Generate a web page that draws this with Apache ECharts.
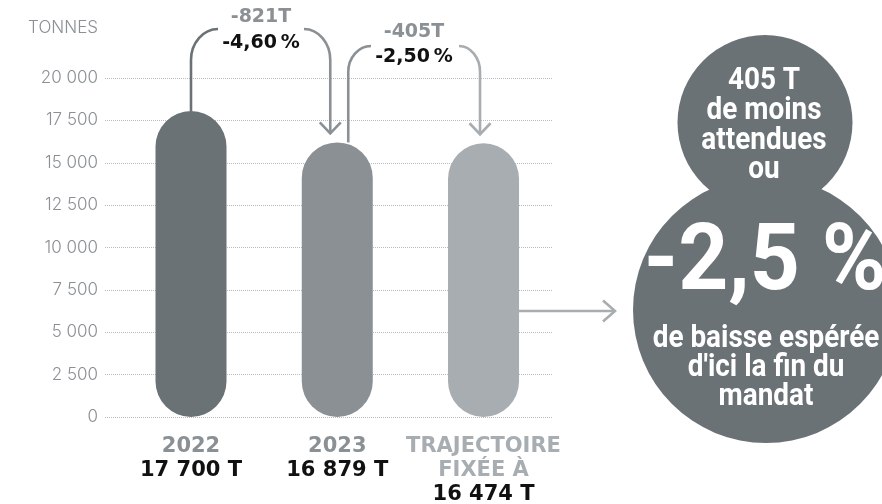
<!DOCTYPE html>
<html>
<head>
<meta charset="utf-8">
<script src="https://cdn.jsdelivr.net/npm/echarts@6/dist/echarts.min.js"></script>
<style>
  html, body { margin: 0; padding: 0; background: #fff; }
  #main { width: 882px; height: 504px; }
</style>
</head>
<body>
<div id="main"></div>
<script>
// values
const categories = ['2022', '2023', 'TRAJECTOIRE\nFIXÉE À'];
const barValues = [18050, 16200, 16150];
const valueLabels = ['17 700 T', '16 879 T', '16 474 T'];
const barColors = ['#6b7276', '#8a9094', '#a8adb1'];
const labelColors = ['#8a9094', '#8a9094', '#a8adb1'];
const yMin = 0, yMax = 20000, yStep = 2500;
const deltaTonnes = ['-821T', '-405T'];
const deltaPercent = ['-4,60\u202f%', '-2,50\u202f%'];
const bubbleTop = ['405 T', 'de moins', 'attendues', 'ou'];
const bubbleBig = '-2,5 %';
const bubbleBottom = ['de baisse espérée', "d'ici la fin du", 'mandat'];

const chart = echarts.init(document.getElementById('main'));

const fmtThousands = v => String(v).replace(/\B(?=(\d{3})+(?!\d))/g, ' ');

const rich = {
  v: { fontFamily: 'DejaVu Sans', fontWeight: 'bold', fontSize: 21, color: '#111', lineHeight: 24 }
};
labelColors.forEach((c, i) => {
  rich['c' + i] = { fontFamily: 'DejaVu Sans', fontWeight: 'bold', fontSize: 21, color: c, lineHeight: 24 };
});

chart.setOption({
  backgroundColor: '#fff',
  animation: false,
  grid: { left: 105, right: 329, top: 78, bottom: 87 },
  xAxis: {
    type: 'value',
    min: -0.588,
    max: 2.475,
    show: false
  },
  yAxis: {
    type: 'value',
    min: yMin,
    max: yMax,
    interval: yStep,
    axisLine: { show: false },
    axisTick: { show: false },
    axisLabel: {
      margin: 7,
      color: '#8a9094',
      fontFamily: 'Inter',
      fontWeight: 300,
      fontSize: 17,
      formatter: v => fmtThousands(v)
    },
    splitLine: { lineStyle: { type: 'dotted', color: '#b9bdc0', width: 1 } }
  },
  series: [{
    type: 'bar',
    silent: true,
    barWidth: 71,
    data: barValues.map((v, i) => ({
      value: [i, v],
      itemStyle: { color: barColors[i], borderRadius: 35.5 }
    })),
    label: {
      show: true,
      position: 'bottom',
      distance: 18,
      rich: rich,
      formatter: p => {
        const lines = categories[p.dataIndex].split('\n').map(s => '{c' + p.dataIndex + '|' + s + '}');
        lines.push('{v|' + valueLabels[p.dataIndex] + '}');
        return lines.join('\n');
      }
    }
  }]
});

// annotations placed from the bar positions
const pts = barValues.map((v, i) => chart.convertToPixel({ gridIndex: 0 }, [i, v]));
const half = 35.5;
const lw = 2.6;

function seg(x1, y1, x2, y2, color) {
  return { type: 'line', silent: true, shape: { x1, y1, x2, y2 }, style: { stroke: color, lineWidth: lw, fill: null } };
}
// vertical-then-horizontal rounded turn
function upTurn(x0, yv, x1, yh, color) {
  const k = 0.55;
  return {
    type: 'bezierCurve', silent: true,
    shape: { x1: x0, y1: yv, x2: x1, y2: yh, cpx1: x0, cpy1: yv - k * (yv - yh), cpx2: x1 - k * (x1 - x0), cpy2: yh },
    style: { stroke: color, lineWidth: lw, fill: null }
  };
}
function downTurn(x0, yh, x1, yv, color) {
  const k = 0.55;
  return {
    type: 'bezierCurve', silent: true,
    shape: { x1: x0, y1: yh, x2: x1, y2: yv, cpx1: x0 + k * (x1 - x0), cpy1: yh, cpx2: x1, cpy2: yv - k * (yv - yh) },
    style: { stroke: color, lineWidth: lw, fill: null }
  };
}
function chevronDown(x, y, color) {
  return { type: 'polyline', silent: true, shape: { points: [[x - 10.5, y - 11], [x, y], [x + 10.5, y - 11]] }, style: { stroke: color, lineWidth: lw, fill: null } };
}
function chevronRight(x, y, color) {
  return { type: 'polyline', silent: true, shape: { points: [[x - 12, y - 10.5], [x, y], [x - 12, y + 10.5]] }, style: { stroke: color, lineWidth: lw, fill: null } };
}
function txt(x, y, text, font, color, extra) {
  return Object.assign({
    type: 'text', silent: true, x, y,
    style: { text, font, fill: color, align: 'center', verticalAlign: 'middle' }
  }, extra || {});
}

const g = [];
g.push({ type: 'text', silent: true, x: 98, y: 28, style: { text: 'TONNES', font: '300 17px Inter', fill: '#8a9094', align: 'right', verticalAlign: 'middle' } });

// 2022 -> 2023
const a1x = pts[0][0], a1top = pts[0][1];
g.push(seg(a1x, a1top, a1x, 60, barColors[0]));
g.push(upTurn(a1x, 60, 218, 29, barColors[0]));
const t1x = pts[1][0] - 7, t1y = pts[1][1] - 9;
g.push(downTurn(304, 29, t1x, 60, barColors[1]));
g.push(seg(t1x, 60, t1x, t1y, barColors[1]));
g.push(chevronDown(t1x, t1y, barColors[1]));
g.push(txt(261, 17, deltaTonnes[0], 'bold 19px "DejaVu Sans"', '#8a9094'));
g.push(txt(261, 43, deltaPercent[0], 'bold 19px "DejaVu Sans"', '#111'));

// 2023 -> trajectoire
const a2x = pts[1][0] + 11, a2top = pts[1][1];
g.push(seg(a2x, a2top, a2x, 72, barColors[1]));
g.push(upTurn(a2x, 72, 371, 46, barColors[1]));
const t2x = pts[2][0] - 3.5, t2y = pts[2][1] - 9;
g.push(downTurn(459, 46, t2x, 72, barColors[2]));
g.push(seg(t2x, 72, t2x, t2y, barColors[2]));
g.push(chevronDown(t2x, t2y, barColors[2]));
g.push(txt(414, 32, deltaTonnes[1], 'bold 19px "DejaVu Sans"', '#8a9094'));
g.push(txt(414, 57, deltaPercent[1], 'bold 19px "DejaVu Sans"', '#111'));

// arrow to the bubble
const hy = chart.convertToPixel({ gridIndex: 0 }, [0, 6250])[1];
g.push(seg(pts[2][0] + half, hy, 615, hy, barColors[2]));
g.push(chevronRight(615, hy, barColors[2]));

// bubble
const bubble = '#6b7276';
g.push({ type: 'circle', silent: true, shape: { cx: 765, cy: 122.5, r: 87.5 }, style: { fill: bubble } });
g.push({ type: 'circle', silent: true, shape: { cx: 766, cy: 310, r: 133 }, style: { fill: bubble } });
const smallFont = 'bold 31px Roboto';
[81, 111, 141, 170].forEach((y, i) => g.push(txt(764, y, bubbleTop[i], smallFont, '#fff', { scaleX: 0.9 })));
g.push(txt(765, 266, bubbleBig, 'bold 92px Roboto', '#fff', { scaleX: 0.95 }));
[339, 368, 397].forEach((y, i) => g.push(txt(766, y, bubbleBottom[i], smallFont, '#fff', { scaleX: 0.9 })));

chart.setOption({ graphic: g });
</script>
</body>
</html>
